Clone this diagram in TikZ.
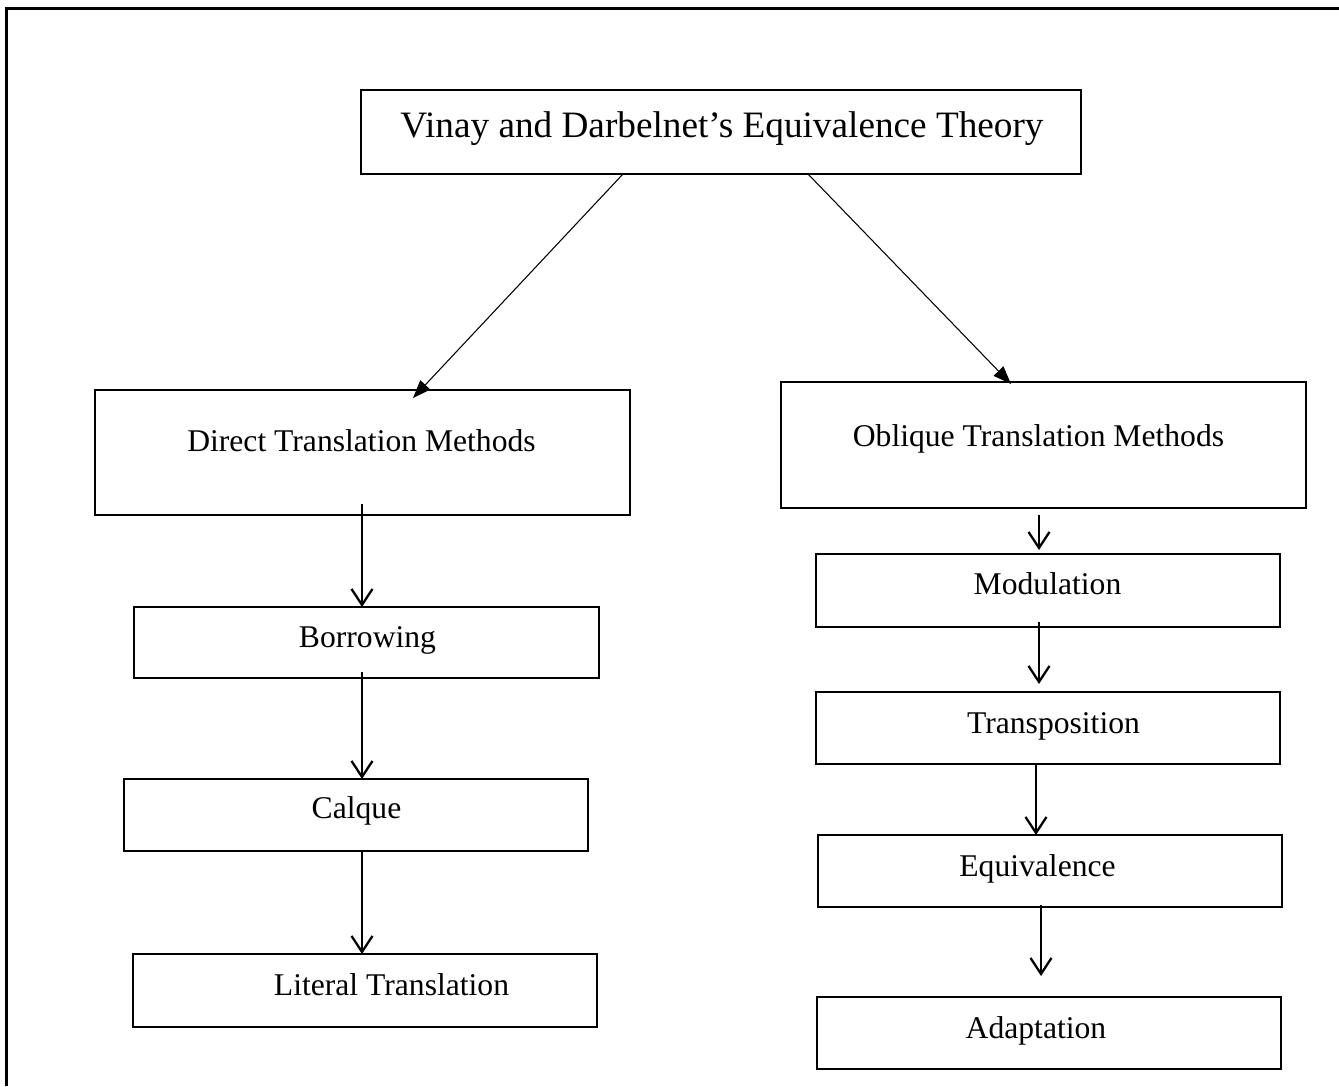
\documentclass[tikz,border=0pt]{standalone}
\usepackage{fontspec}
\setmainfont{Liberation Serif}
\usetikzlibrary{arrows.meta,calc}
\begin{document}
\begin{tikzpicture}[x=0.02cm,y=-0.02cm,
  box/.style args={#1/#2}{draw,line width=1.4pt,minimum width=#1*0.02cm,minimum height=#2*0.02cm,inner sep=0pt,outer sep=0pt},
  lbl/.style={anchor=base,inner sep=0pt,font=\fontsize{18}{20}\selectfont},
  varr/.style={line width=1.3pt,-{Straight Barb[length=0.32cm,width=0.42cm]}},
  darr/.style={line width=0.6pt,-{Triangle[length=0.36cm,width=0.27cm]}}]
\useasboundingbox (0,0) rectangle (1339,1086);
% frame
\draw[line width=1.8pt] (1339,8.5) -- (6.5,8.5) -- (6.5,1086);
% boxes
\node[box=720/84]  (top)     at (721,132)    {};
\node[box=535/125] (direct)  at (362.5,452.5){};
\node[box=525/126] (oblique) at (1043.5,445) {};
\node[box=465/71]  (borrow)  at (366.5,642.5){};
\node[box=464/72]  (calque)  at (356,815)    {};
\node[box=464/73]  (literal) at (365,990.5)  {};
\node[box=464/73]  (modul)   at (1048,590.5) {};
\node[box=464/72]  (transp)  at (1048,728)   {};
\node[box=464/72]  (equiv)   at (1050,871)   {};
\node[box=464/72]  (adapt)   at (1049,1033)  {};
% texts
\node[lbl,font=\fontsize{21.2}{24}\selectfont] (ttop) at (722,137) {Vinay and Darbelnet’s Equivalence Theory};
\node[lbl] (tdirect)  at (361.5,451.5) {Direct Translation Methods};
\node[lbl] (toblique) at (1038.5,446.5) {Oblique Translation Methods};
\node[lbl] (tmodul)   at (1047.5,594.5) {Modulation};
\node[lbl] (tborrow)  at (367.5,647.5) {Borrowing};
\node[lbl] (ttransp)  at (1053.5,733.5) {Transposition};
\node[lbl] (tcalque)  at (356.5,818.5) {Calque};
\node[lbl] (tequiv)   at (1037.5,876.5) {Equivalence};
\node[lbl] (tliteral) at (391.5,995.5) {Literal Translation};
\node[lbl] (tadapt)   at (1036,1038.5) {Adaptation};
% diagonal arrows
\draw[darr] ($(top.south)+(-98,0)$) -- ($(direct.north)+(50.5,8)$);
\draw[darr] ($(top.south)+(87,0)$) -- ($(oblique.north)+(-32.5,2)$);
% vertical arrows
\draw[varr] ($(direct.south)+(-0.5,-11)$) -- ($(borrow.north)+(-4.5,0)$);
\draw[varr] ($(borrow.south)+(-4.5,-6)$) -- ($(calque.north)+(6,0)$);
\draw[varr] ($(calque.south)+(6,0)$) -- ($(literal.north)+(-3,0)$);
\draw[varr] ($(oblique.south)+(-4.5,7)$) -- ($(modul.north)+(-9,-4)$);
\draw[varr] ($(modul.south)+(-9,-5)$) -- ($(transp.north)+(-9,-8)$);
\draw[varr] ($(transp.south)+(-12,0)$) -- ($(equiv.north)+(-14,0)$);
\draw[varr] ($(equiv.south)+(-9,-2)$) -- ($(adapt.north)+(-8,-21)$);
\end{tikzpicture}
\end{document}
